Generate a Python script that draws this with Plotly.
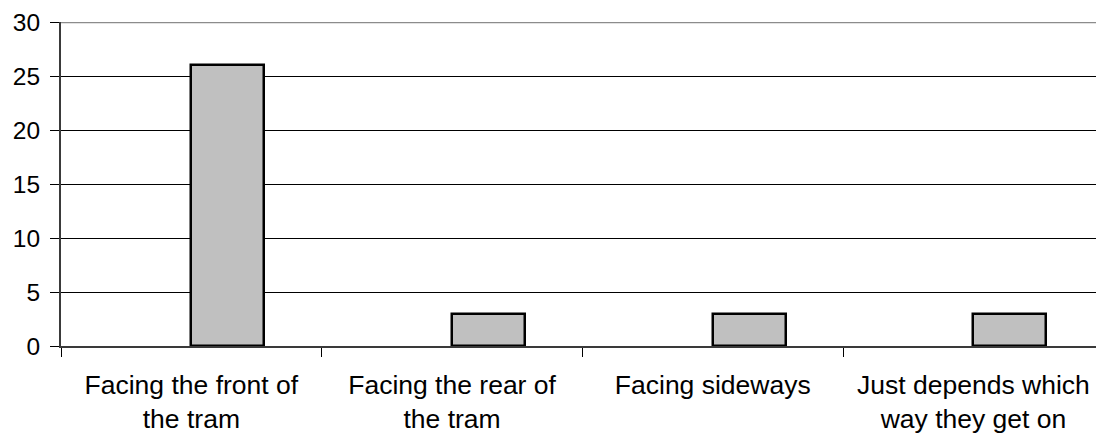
import plotly.graph_objects as go

categories = [
    "Facing the front of<br>the tram",
    "Facing the rear of<br>the tram",
    "Facing sideways",
    "Just depends which<br>way they get on",
]
counts = [26, 3, 3, 3]
y_ticks = [0, 5, 10, 15, 20, 25, 30]

fig = go.Figure()
fig.add_trace(go.Bar(
    x=categories,
    y=counts,
    offset=0,
    width=0.28,
    marker=dict(color="#C0C0C0", line=dict(color="#000000", width=2.5)),
))

# top border of the plot area
fig.add_shape(type="line", xref="paper", yref="y", x0=0, x1=1, y0=30, y1=30,
              line=dict(color="#8C8C8C", width=2.5))

fig.update_layout(
    width=1096, height=435,
    margin=dict(l=61, r=0, t=22, b=89),
    paper_bgcolor="white", plot_bgcolor="white",
    showlegend=False,
    font=dict(family="Liberation Sans, Arial, sans-serif", size=23, color="#000000"),
    bargap=0,
)
fig.update_xaxes(
    type="category",
    range=[-0.5, 3.47],
    tickson="boundaries",
    ticks="outside", ticklen=9, tickcolor="#000000", tickwidth=1,
    showline=True, linecolor="#3A3A3A", linewidth=2,
    showgrid=False,
    tickfont=dict(size=26.5),
    ticklabelstandoff=14,
)
fig.update_yaxes(
    range=[0, 30],
    tickvals=y_ticks,
    ticks="outside", ticklen=9, tickcolor="#000000", tickwidth=1,
    showline=True, linecolor="#3A3A3A", linewidth=2,
    showgrid=True, gridcolor="#000000", gridwidth=1,
    zeroline=False,
    tickfont=dict(size=24.5),
    ticklabelstandoff=5,
)

fig.write_html("out.html")
